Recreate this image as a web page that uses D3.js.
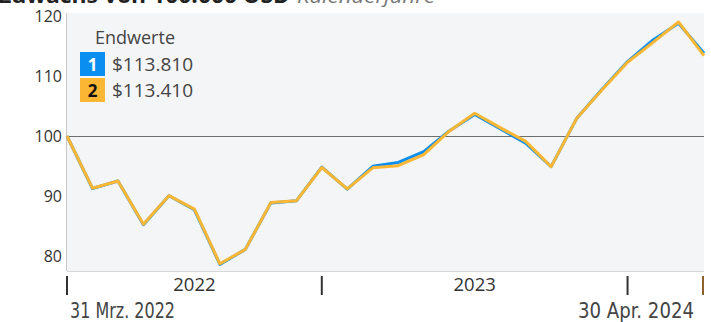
<!DOCTYPE html>
<html>
<head>
<meta charset="utf-8">
<script src="https://cdn.jsdelivr.net/npm/d3@7/dist/d3.min.js"></script>
<style>
  html, body { margin: 0; padding: 0; background: #fff; }
  svg { display: block; }
</style>
</head>
<body>
<svg id="chart" width="711" height="322"></svg>
<script>
// Month-end dates, Mar 2022 – Apr 2024
const months = [
  "2022-03","2022-04","2022-05","2022-06","2022-07","2022-08","2022-09","2022-10","2022-11","2022-12",
  "2023-01","2023-02","2023-03","2023-04","2023-05","2023-06","2023-07","2023-08","2023-09","2023-10","2023-11","2023-12",
  "2024-01","2024-02","2024-03","2024-04"
];
// Growth of 100,000 USD (in thousands)
const series1 = [100, 91.25, 92.5, 85.2, 90.05, 87.7, 78.6, 81.1, 88.85, 89.2,
  94.8, 91.15, 94.95, 95.6, 97.4, 100.85, 103.6, 101.2, 98.8, 94.9, 102.9, 107.8,
  112.4, 116.0, 118.8, 113.81];
const series2 = [100, 91.3, 92.5, 85.3, 90.05, 87.8, 78.7, 81.1, 88.9, 89.2,
  94.75, 91.2, 94.7, 95.05, 96.9, 100.8, 103.8, 101.4, 99.1, 94.9, 102.9, 107.7,
  112.3, 115.6, 119.0, 113.41];
const yTicks = [80, 90, 100, 110, 120];
const yearLabels = [{ label: "2022", from: 0, to: 10 }, { label: "2023", from: 10, to: 22 }];
const yearBreaks = [0, 10, 22];
const endLabels = ["31 Mrz. 2022", "30 Apr. 2024"];
const legendTitle = "Endwerte";
const legendItems = [
  { key: "1", text: "$113.810", color: "#0a8ff0", textColor: "#ffffff" },
  { key: "2", text: "$113.410", color: "#fbb733", textColor: "#111111" }
];
const titleMain = "Zuwachs von 100.000 USD";
const titleSub = "Kalenderjahre";

const svg = d3.select("#chart");
const plot = { left: 67, right: 704, top: 13, bottom: 271 };

const x = d3.scaleLinear().domain([0, months.length - 1]).range([plot.left, plot.right]);
const y = d3.scaleLinear().domain([77.5, 120.5]).range([plot.bottom, plot.top]);

const font = "'Open Sans', 'Noto Sans', sans-serif";

// Title (runs off the top edge)
svg.append("text").attr("x", -2).attr("y", 2.5)
  .attr("font-family", font).attr("font-weight", 700).attr("font-size", 21)
  .attr("fill", "#222").attr("textLength", 292).attr("lengthAdjust", "spacingAndGlyphs")
  .text(titleMain);
svg.append("text").attr("x", 297).attr("y", 2.5)
  .attr("font-family", font).attr("font-style", "italic").attr("font-size", 19)
  .attr("fill", "#777").attr("textLength", 138).attr("lengthAdjust", "spacingAndGlyphs")
  .text(titleSub);

// Plot background
svg.append("rect").attr("x", plot.left).attr("y", plot.top)
  .attr("width", plot.right - plot.left).attr("height", plot.bottom - plot.top)
  .attr("fill", "#f4f5f7");

// Left axis line and bottom border
svg.append("line").attr("x1", plot.left - 0.5).attr("x2", plot.left - 0.5)
  .attr("y1", plot.top).attr("y2", plot.bottom).attr("stroke", "#c8c8c8").attr("stroke-width", 1);
svg.append("line").attr("x1", plot.left).attr("x2", plot.right)
  .attr("y1", plot.bottom + 0.5).attr("y2", plot.bottom + 0.5).attr("stroke", "#d8d8d8").attr("stroke-width", 1);

// Y axis labels
const yAxis = d3.axisLeft(y).tickValues(yTicks).tickSize(0).tickPadding(5);
const gy = svg.append("g").attr("transform", `translate(${plot.left},0)`).call(yAxis);
gy.select(".domain").remove();
gy.selectAll("text").attr("font-family", font).attr("font-size", 16).attr("fill", "#333");

// Baseline at 100
svg.append("line").attr("x1", plot.left).attr("x2", plot.right)
  .attr("y1", y(100) + 0.5).attr("y2", y(100) + 0.5).attr("stroke", "#6e6e6e").attr("stroke-width", 1);

// Lines
const line = d3.line().x((d, i) => x(i)).y(d => y(d));
svg.append("path").datum(series1).attr("d", line)
  .attr("fill", "none").attr("stroke", legendItems[0].color).attr("stroke-width", 3)
  .attr("stroke-linejoin", "round");
svg.append("path").datum(series2).attr("d", line)
  .attr("fill", "none").attr("stroke", legendItems[1].color).attr("stroke-width", 3)
  .attr("stroke-linejoin", "round");

// Year separators and labels
svg.selectAll("line.sep").data(yearBreaks).enter().append("line")
  .attr("class", "sep")
  .attr("x1", d => x(d)).attr("x2", d => x(d))
  .attr("y1", 276).attr("y2", 295)
  .attr("stroke", "#333").attr("stroke-width", 2);
svg.append("line")
  .attr("x1", x(months.length - 1) - 1).attr("x2", x(months.length - 1) - 1)
  .attr("y1", 276).attr("y2", 295)
  .attr("stroke", "#8e5f2c").attr("stroke-width", 2);
svg.selectAll("text.year").data(yearLabels).enter().append("text")
  .attr("class", "year")
  .attr("x", d => x((d.from + d.to) / 2)).attr("y", 291)
  .attr("text-anchor", "middle")
  .attr("font-family", font).attr("font-size", 18.5).attr("fill", "#333")
  .text(d => d.label);

// Start / end date labels
const narrow = "'Liberation Sans Narrow', 'DejaVu Sans Condensed', sans-serif";
svg.append("text").attr("x", 70).attr("y", 318)
  .attr("font-family", narrow).attr("font-size", 21).attr("fill", "#444")
  .attr("textLength", 105).attr("lengthAdjust", "spacingAndGlyphs")
  .text(endLabels[0]);
svg.append("text").attr("x", 578).attr("y", 318)
  .attr("font-family", narrow).attr("font-size", 21).attr("fill", "#444")
  .attr("textLength", 116).attr("lengthAdjust", "spacingAndGlyphs")
  .text(endLabels[1]);

// Legend
svg.append("text").attr("x", 95).attr("y", 44)
  .attr("font-family", font).attr("font-size", 18).attr("fill", "#444")
  .text(legendTitle);
const lg = svg.selectAll("g.leg").data(legendItems).enter().append("g")
  .attr("class", "leg")
  .attr("transform", (d, i) => `translate(80,${52 + i * 26})`);
lg.append("rect").attr("width", 25).attr("height", 24).attr("fill", d => d.color);
lg.append("text").attr("x", 12.5).attr("y", 18.5).attr("text-anchor", "middle")
  .attr("font-family", font).attr("font-weight", 700).attr("font-size", 17)
  .attr("fill", d => d.textColor).text(d => d.key);
lg.append("text").attr("x", 32).attr("y", 18.5)
  .attr("font-family", font).attr("font-size", 19).attr("fill", "#444")
  .text(d => d.text);
</script>
</body>
</html>
